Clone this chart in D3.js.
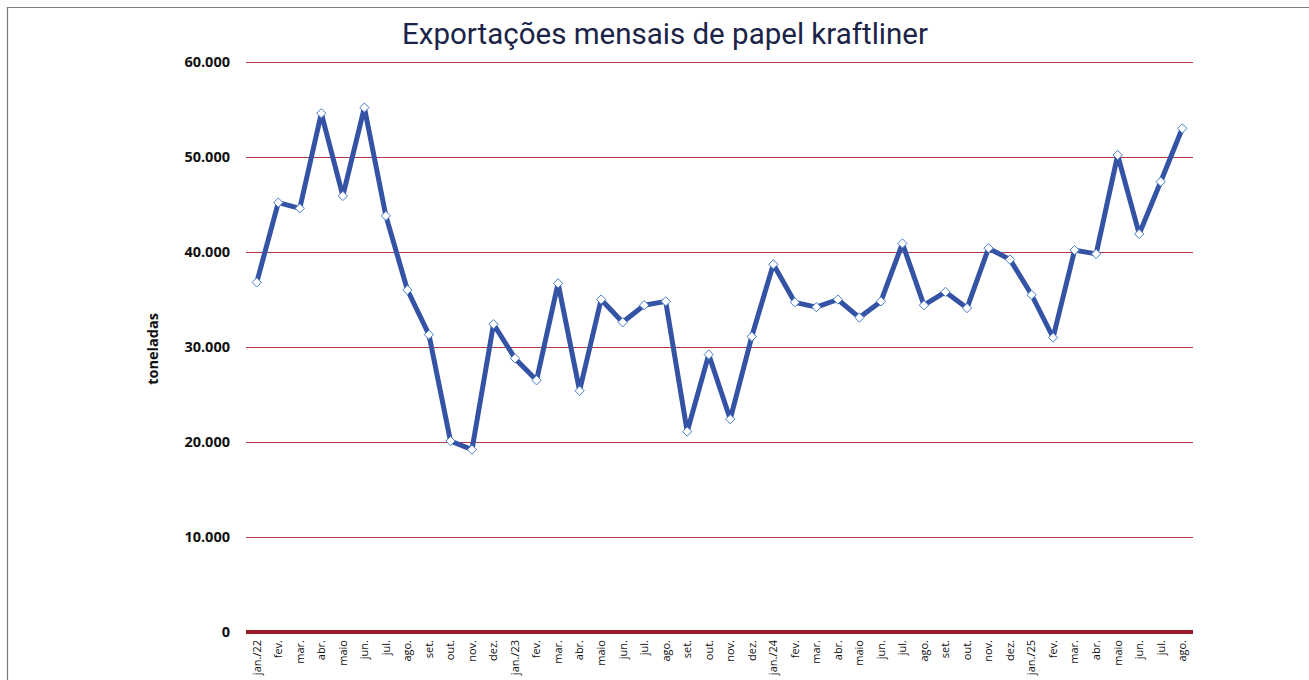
<!DOCTYPE html>
<html>
<head>
<meta charset="utf-8">
<script src="https://cdn.jsdelivr.net/npm/d3@7"></script>
<style>
  html, body { margin: 0; padding: 0; background: #fff; }
  svg { display: block; }
</style>
</head>
<body>
<svg id="chart" width="1309" height="680"></svg>
<script>
const title = "Exportações mensais de papel kraftliner";
const yTitle = "toneladas";
const months = ["jan./22","fev.","mar.","abr.","maio","jun.","jul.","ago.","set.","out.","nov.","dez.",
  "jan./23","fev.","mar.","abr.","maio","jun.","jul.","ago.","set.","out.","nov.","dez.",
  "jan./24","fev.","mar.","abr.","maio","jun.","jul.","ago.","set.","out.","nov.","dez.",
  "jan./25","fev.","mar.","abr.","maio","jun.","jul.","ago."];
const values = [36800,45200,44600,54600,45900,55200,43800,36000,31300,20100,19200,32400,
  28800,26500,36700,25400,35000,32600,34400,34800,21100,29200,22400,31100,
  38700,34700,34200,35000,33100,34800,40900,34400,35800,34100,40400,39200,
  35500,31000,40200,39800,50200,41900,47400,53000];
const yTicks = [0,10000,20000,30000,40000,50000,60000];

const svg = d3.select("#chart");
const W = 1309, H = 680;
const m = {left: 246, right: 1193, top: 62, bottom: 632};

// border
svg.append("path")
  .attr("d", `M7.5,${H} L7.5,7.5 L${W},7.5`)
  .attr("fill", "none").attr("stroke", "#7a7a7a").attr("stroke-width", 1.2);

const idx = months.map((d, i) => i);
const x = d3.scaleBand().domain(idx).range([m.left, m.right]);
const y = d3.scaleLinear().domain([0, 60000]).range([m.bottom, m.top]);

const fmt = v => d3.format(",")(v).replace(/,/g, ".");

const yAxis = d3.axisLeft(y).tickValues(yTicks).tickSize(0).tickFormat(fmt).tickPadding(16);
const gy = svg.append("g").attr("transform", `translate(${m.left},0)`).call(yAxis);
gy.select(".domain").remove();
gy.selectAll("text")
  .attr("font-family", "'Open Sans', 'Liberation Sans', sans-serif")
  .attr("font-weight", "bold").attr("font-size", 14.5).attr("fill", "#111");

// gridlines
svg.append("g").selectAll("line")
  .data(yTicks.filter(t => t > 0)).join("line")
  .attr("x1", m.left).attr("x2", m.right)
  .attr("y1", d => Math.round(y(d)) + 0.5).attr("y2", d => Math.round(y(d)) + 0.5)
  .attr("stroke", "#b33a44").attr("stroke-width", 1);

// x axis
const xAxis = d3.axisBottom(x).tickSize(0).tickFormat(i => months[i]);
const gx = svg.append("g").attr("transform", `translate(0,${m.bottom})`).call(xAxis);
gx.select(".domain").remove();
gx.selectAll("text")
  .attr("font-family", "'Open Sans', 'Liberation Sans', sans-serif")
  .attr("font-size", 11).attr("fill", "#111")
  .attr("text-anchor", "end")
  .attr("transform", "rotate(-90)")
  .attr("x", -8).attr("y", 0).attr("dy", "0.35em");

// zero line
svg.append("line")
  .attr("x1", m.left).attr("x2", m.right)
  .attr("y1", y(0)).attr("y2", y(0))
  .attr("stroke", "#9b1c24").attr("stroke-width", 4);

// line
const cx = i => x(i) + x.bandwidth() / 2;
const line = d3.line().x((d, i) => cx(i)).y(d => y(d));
svg.append("path").datum(values)
  .attr("d", line).attr("fill", "none")
  .attr("stroke", "#3553a5").attr("stroke-width", 5)
  .attr("stroke-linejoin", "round");

// markers
const sym = d3.symbol().type(d3.symbolDiamond2).size(55);
svg.append("g").selectAll("path").data(values).join("path")
  .attr("d", sym)
  .attr("transform", (d, i) => `translate(${cx(i)},${y(d)})`)
  .attr("fill", "#fff").attr("stroke", "#4a7cc8").attr("stroke-width", 1);

// titles
svg.append("text")
  .attr("x", 665).attr("y", 44).attr("text-anchor", "middle")
  .attr("font-family", "Roboto, 'Noto Sans', sans-serif")
  .attr("font-size", 29.5).attr("fill", "#1b2448")
  .text(title);

svg.append("text")
  .attr("transform", `translate(158,${(m.top + m.bottom) / 2 + 2}) rotate(-90)`)
  .attr("text-anchor", "middle")
  .attr("font-family", "'Open Sans', 'Liberation Sans', sans-serif")
  .attr("font-weight", "bold").attr("font-size", 14.5).attr("fill", "#111")
  .text(yTitle);
</script>
</body>
</html>
